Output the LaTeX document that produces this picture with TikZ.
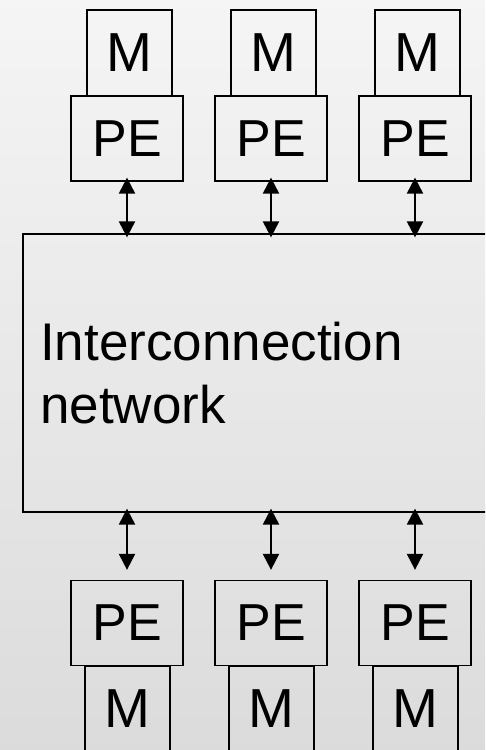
\documentclass[tikz,border=0pt]{standalone}
\usepackage{fontspec}
\setmainfont{Liberation Sans}
\usetikzlibrary{arrows.meta}
\begin{document}
\begin{tikzpicture}[x=1pt,y=-1pt,
  box/.style={draw=black, line width=1.3pt, inner sep=0pt},
  membox/.style={box, minimum width=85pt, minimum height=86pt,
    font=\fontsize{55}{60}\selectfont},
  pebox/.style={box, minimum width=112pt, minimum height=85pt,
    font=\fontsize{52}{60}\selectfont},
  link/.style={line width=2.2pt, {Triangle[length=16pt,width=16pt]}-{Triangle[length=16pt,width=16pt]}}
]
  % page and soft vertical gradient
  \useasboundingbox (0,0) rectangle (485,750);
  \shade[top color=black!4, bottom color=black!14] (0,0) rectangle (485,750);
  \clip (0,0) rectangle (485,750);

  % interconnection network (runs off the right edge)
  \node[box, minimum width=477pt, minimum height=278pt] (net) at (261.5,373) {};
  \node[anchor=base west, inner sep=0pt, align=left,
        font=\fontsize{53}{63}\selectfont] (netlabel) at (40,423)
        {Interconnection\\network};

  % upper processing elements with their memories
  \foreach \i/\dx in {1/0, 2/144, 3/288} {
    \node[membox] (tm\i) at (129.5+\dx,53) {M};
    \node[pebox]  (tp\i) at (127+\dx,138.5) {PE};
    \draw[link, shorten <=-4pt, shorten >=-4pt] (tp\i.south) -- (tp\i.south |- net.north);
  }

  % lower processing elements with their memories
  \foreach \i/\dx in {1/0, 2/144, 3/288} {
    \node[pebox]  (bp\i) at (127+\dx,623) {PE};
    \node[membox] (bm\i) at (127.5+\dx,709) {M};
    \draw[link, shorten <=-4pt, shorten >=10pt] (bp\i.north |- net.south) -- (bp\i.north);
  }
\end{tikzpicture}
\end{document}
